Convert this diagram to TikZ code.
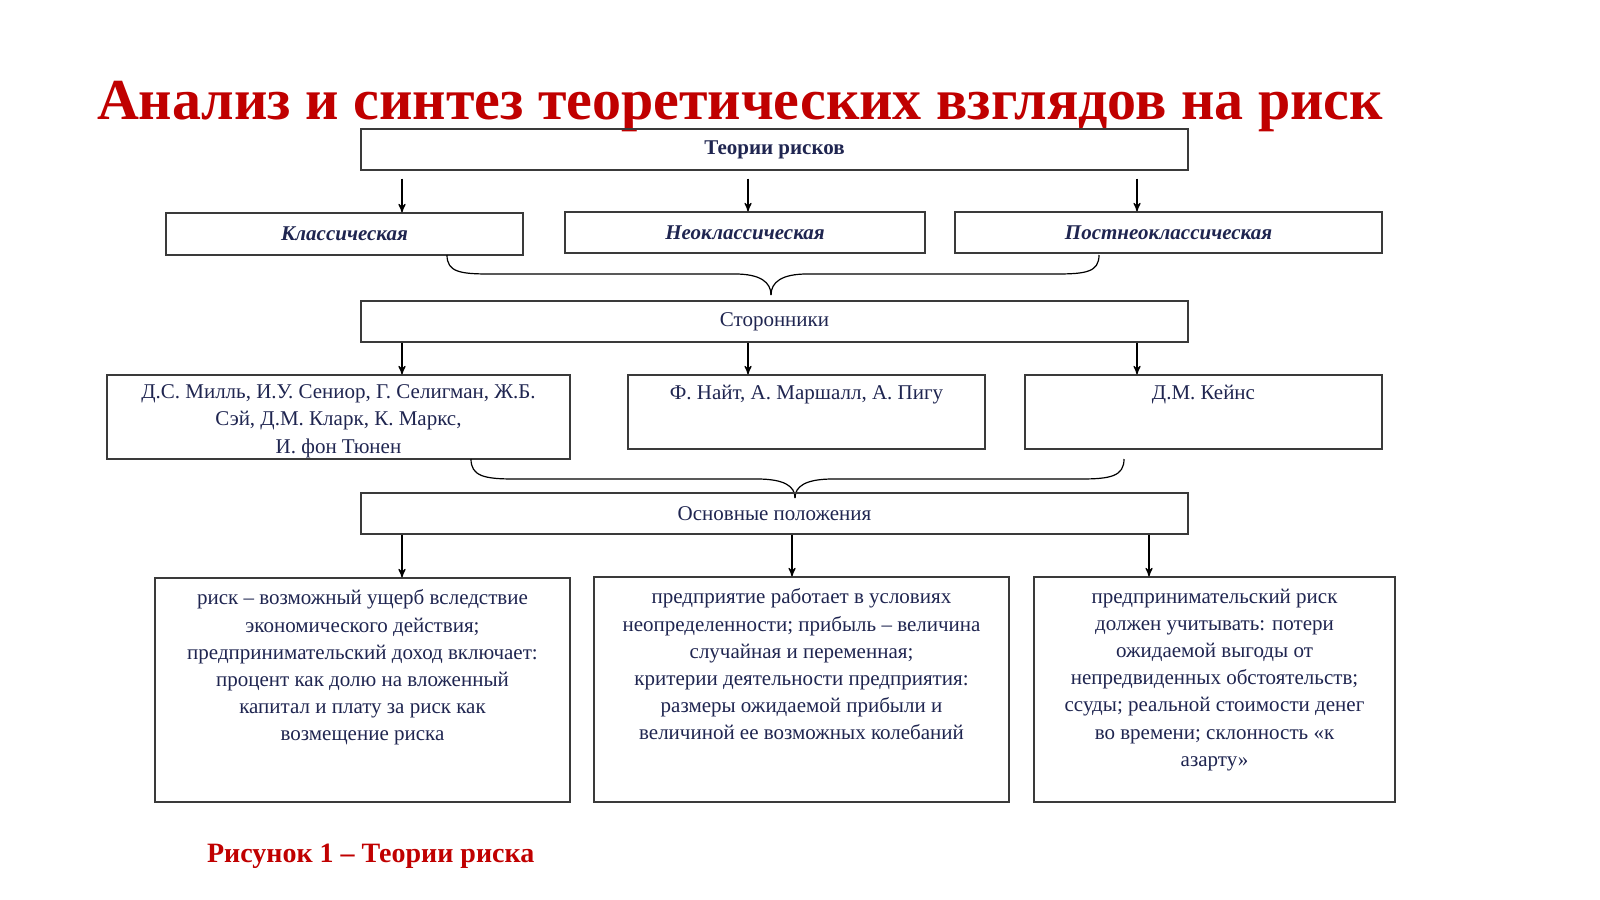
\documentclass[tikz,border=0pt]{standalone}
\usepackage{fontspec}
\setmainfont{Liberation Serif}
\usetikzlibrary{arrows}
\definecolor{titlered}{HTML}{C00000}
\definecolor{navy}{HTML}{1F2550}
\definecolor{edge}{HTML}{3A3A3A}
\begin{document}
\begin{tikzpicture}[x=0.5pt,y=-0.5pt,->,>=stealth',
	box/.style={draw=edge,line width=0.6pt,inner sep=0pt},
	txt/.style={text=navy,font=\fontsize{10.5}{13.6}\selectfont,align=center},
	conn/.style={draw=black,line width=0.6pt}]
	\useasboundingbox (0,0) rectangle (1600,899);
	\node[text=titlered,font=\fontsize{29}{32}\selectfont\bfseries,anchor=west] (title) at (90,107)
		{Анализ и синтез теоретических взглядов на риск};
	% level 1
	\node[box,minimum width=413.5pt,minimum height=20.5pt] (T) at (774.5,149.5) {};
	\node[txt,font=\fontsize{10.5}{13}\selectfont\bfseries] at (T) {Теории рисков};
	\node[box,minimum width=178.5pt,minimum height=21pt] (K1) at (344.5,234) {};
	\node[box,minimum width=180pt,minimum height=20.5pt] (K2) at (745,232.5) {};
	\node[box,minimum width=213.5pt,minimum height=20.5pt] (K3) at (1168.5,232.5) {};
	\node[txt,font=\fontsize{10.5}{13}\selectfont\bfseries\itshape] at (K1) {Классическая};
	\node[txt,font=\fontsize{10.5}{13}\selectfont\bfseries\itshape] at (K2) {Неоклассическая};
	\node[txt,font=\fontsize{10.5}{13}\selectfont\bfseries\itshape] at (K3) {Постнеоклассическая};
	\coordinate (a1) at (402,0);
	\coordinate (a2) at (748,0);
	\coordinate (a3) at (1137,0);
	\coordinate (c3) at (1149,0);
	\coordinate (c2) at (792,0);
	\draw[conn,shorten <=4pt] (a1 |- T.south) -- (a1 |- K1.north);
	\draw[conn,shorten <=4pt] (a2 |- T.south) -- (a2 |- K2.north);
	\draw[conn,shorten <=4pt] (a3 |- T.south) -- (a3 |- K3.north);
	% brace 1
	\draw[-,line width=0.6pt] (447,255) .. controls (447,272) and (460,274) .. (490,274) -- (735,274)
		.. controls (760,274) and (771,282) .. (771,295);
	\draw[-,line width=0.6pt] (1099,255) .. controls (1099,272) and (1086,274) .. (1056,274) -- (807,274)
		.. controls (782,274) and (771,282) .. (771,295);
	% level 2
	\node[box,minimum width=413.5pt,minimum height=20.5pt] (S) at (774.5,321.5) {};
	\node[txt] at (S) {Сторонники};
	\node[box,minimum width=231.5pt,minimum height=42pt] (P1) at (338.5,417) {};
	\node[box,minimum width=178.5pt,minimum height=37pt] (P2) at (806.5,412) {};
	\node[box,minimum width=178.5pt,minimum height=37pt] (P3) at (1203.5,412) {};
	\node[txt,anchor=north,inner sep=0pt] at ([yshift=-5pt]P1.north)
		{Д.С. Милль, И.У. Сениор, Г. Селигман, Ж.Б.\\Сэй, Д.М. Кларк, К. Маркс,\\И. фон Тюнен};
	\node[txt,anchor=north,inner sep=0pt] at ([yshift=-5pt]P2.north) {Ф. Найт, А. Маршалл, А. Пигу};
	\node[txt,anchor=north,inner sep=0pt] at ([yshift=-5pt]P3.north) {Д.М. Кейнс};
	\draw[conn] (a1 |- S.south) -- (a1 |- P1.north);
	\draw[conn] (a2 |- S.south) -- (a2 |- P2.north);
	\draw[conn] (a3 |- S.south) -- (a3 |- P3.north);
	% brace 2
	\draw[-,line width=0.6pt] (471,459) .. controls (471,476) and (484,479) .. (514,479) -- (757,479)
		.. controls (784,479) and (795,486) .. (795,498);
	\draw[-,line width=0.6pt] (1124,459) .. controls (1124,476) and (1111,479) .. (1081,479) -- (833,479)
		.. controls (806,479) and (795,486) .. (795,498);
	% level 3
	\node[box,minimum width=413.5pt,minimum height=20.5pt] (O) at (774.5,513.5) {};
	\node[txt] at (O) {Основные положения};
	\node[box,minimum width=207.5pt,minimum height=112pt] (B1) at (362.5,690) {};
	\node[box,minimum width=207.5pt,minimum height=112.5pt] (B2) at (801.5,689.5) {};
	\node[box,minimum width=180.5pt,minimum height=112.5pt] (B3) at (1214.5,689.5) {};
	\node[txt,anchor=north,inner sep=0pt] at ([yshift=-6pt]B1.north)
		{риск – возможный ущерб вследствие\\экономического действия;\\предпринимательский доход включает:\\процент как долю на вложенный\\капитал и плату за риск как\\возмещение риска};
	\node[txt,anchor=north,inner sep=0pt] at ([yshift=-6pt]B2.north)
		{предприятие работает в условиях\\неопределенности; прибыль – величина\\случайная и переменная;\\критерии деятельности предприятия:\\размеры ожидаемой прибыли и\\величиной ее возможных колебаний};
	\node[txt,anchor=north,inner sep=0pt] at ([yshift=-6pt]B3.north)
		{предпринимательский риск\\должен учитывать: потери\\ожидаемой выгоды от\\непредвиденных обстоятельств;\\ссуды; реальной стоимости денег\\во времени; склонность «к\\азарту»};
	\draw[conn] (a1 |- O.south) -- (a1 |- B1.north);
	\draw[conn] (c2 |- O.south) -- (c2 |- B2.north);
	\draw[conn] (c3 |- O.south) -- (c3 |- B3.north);
	\node[text=titlered,font=\fontsize{14}{16}\selectfont\bfseries,anchor=west] (cap) at (200,856)
		{Рисунок 1 – Теории риска};
\end{tikzpicture}
\end{document}
